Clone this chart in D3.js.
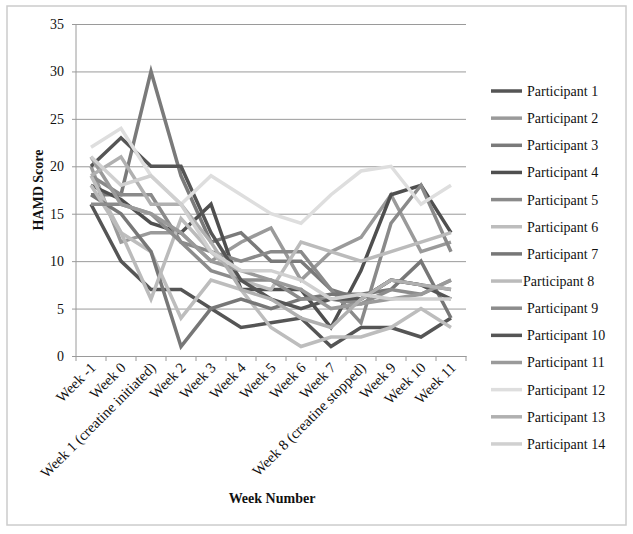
<!DOCTYPE html>
<html>
<head>
  <script src="https://d3js.org/d3.v7.min.js"></script>
<style>
body { margin: 0; background: #fff; }
text { font-family: "Liberation Serif", "Times New Roman", serif; fill: #111; }
.grid line { stroke: #9a9a9a; stroke-width: 1px; }
.axis path, .axis line { stroke: #9a9a9a; }
.series { fill: none; stroke-width: 3.5px; }
</style>
</head>
<body>
<div id="viz"></div>
<script>

// week labels on the x axis
var weeks = ["Week -1", "Week 0", "Week 1 (creatine initiated)", "Week 2", "Week 3", "Week 4",
  "Week 5", "Week 6", "Week 7", "Week 8 (creatine stopped)", "Week 9", "Week 10", "Week 11"];

var yTicks = [0, 5, 10, 15, 20, 25, 30, 35];

// HAMD scores, one array per participant
var p1  = [16, 10, 7, 7, 5, 3, 3.5, 4, 1, 3, 3, 2, 4];
var p2  = [20, 12, 13, 13, 10, 12, 13.5, 8, 11, 12.5, 17, 11, 12];
var p3  = [17, 17, 30, 19, 12, 13, 10, 10, 7, 6, 8, 7.5, 7];
var p4  = [18, 16.5, 14, 13, 16, 7, 7, 7, 3, 9, 17, 18, 13];
var p5  = [19, 17, 17, 12, 11, 10, 11, 11, 7, 3.5, 14, 18, 11];
var p6  = [19, 13, 11, 4, 8, 7, 3, 1, 2, 2, 3, 5, 3];
var p7  = [17, 15, 11, 1, 5, 6, 5, 6, 6.5, 6.5, 7, 10, 4];
var p8  = [18, 13, 6, 14.5, 11, 8, 7, 12, 11, 10, 11, 12, 13];
var p9  = [16, 16, 15, 12, 9, 8, 8, 6, 6, 5.5, 7, 6.5, 8];
var p10 = [20, 23, 20, 20, 13, 8, 6, 5, 6, 6, 8, 7.5, 6];
var p11 = [21, 16, 15, 13, 10, 9, 8, 7, 5, 5.5, 6, 6.5, 8];
var p12 = [22, 24, 19, 16, 19, 17, 15, 14, 17, 19.5, 20, 16, 18];
var p13 = [19, 21, 16, 16, 12, 7, 6, 4, 3, 6, 8, 7.5, 7];
var p14 = [21, 18, 19, 16, 11, 9, 9, 8, 6, 6.5, 6, 6, 6];

var names = ["Participant 1", "Participant 2", "Participant 3", "Participant 4", "Participant 5",
  "Participant 6", "Participant 7", "Participant 8", "Participant 9", "Participant 10",
  "Participant 11", "Participant 12", "Participant 13", "Participant 14"];
var allSeries = [p1, p2, p3, p4, p5, p6, p7, p8, p9, p10, p11, p12, p13, p14];
var greys = ["#555555", "#9a9a9a", "#7a7a7a", "#4f4f4f", "#8a8a8a", "#bdbdbd", "#777777",
  "#bbbbbb", "#8c8c8c", "#555555", "#9a9a9a", "#dedede", "#b0b0b0", "#d0d0d0"];

var W = 633, H = 534;
var plot = {left: 76, right: 466, top: 24, bottom: 356};

var svg = d3.select("#viz").append("svg")
    .attr("width", W)
    .attr("height", H);

// outer frame
svg.append("rect")
    .attr("x", 7).attr("y", 6)
    .attr("width", 619).attr("height", 519)
    .style("fill", "none")
    .style("stroke", "#cccccc")
    .style("stroke-width", 1.5);

var x = d3.scaleBand().domain(weeks).range([plot.left, plot.right]);
var y = d3.scaleLinear().domain([0, 35]).range([plot.bottom, plot.top]);

// horizontal grid lines + y labels
var yAxis = svg.append("g")
    .attr("class", "axis grid")
    .attr("transform", "translate(" + plot.left + ",0)")
    .call(d3.axisLeft(y).tickValues(yTicks).tickSize(-(plot.right - plot.left)).tickPadding(12).tickSizeOuter(0));
yAxis.select(".domain").remove();
yAxis.selectAll(".tick line").attr("x1", -4);
yAxis.selectAll(".tick text").style("font-size", "14px").style("fill", "#111");

svg.append("line")
    .attr("x1", plot.left).attr("x2", plot.left)
    .attr("y1", plot.top).attr("y2", plot.bottom)
    .style("stroke", "#9a9a9a");

// x axis (band axis puts each tick at the band centre)
var xAxis = svg.append("g")
    .attr("class", "axis")
    .attr("transform", "translate(0," + plot.bottom + ")")
    .call(d3.axisBottom(x).tickSize(0).tickSizeOuter(0));
xAxis.selectAll(".tick text")
    .style("font-size", "14.7px")
    .style("fill", "#111")
    .attr("text-anchor", "end")
    .attr("transform", "translate(2,9) rotate(-45)")
    .attr("x", 0).attr("y", 0).attr("dy", "0.35em");

// tick marks on the band edges
svg.append("g").selectAll("line")
    .data(weeks.concat(["end"]))
    .enter().append("line")
    .attr("x1", function(d, i) { return plot.left + i * x.step(); })
    .attr("x2", function(d, i) { return plot.left + i * x.step(); })
    .attr("y1", plot.bottom).attr("y2", plot.bottom + 5)
    .style("stroke", "#9a9a9a");

// the lines
var line = d3.line()
    .x(function(d, i) { return x(weeks[i]) + x.bandwidth() / 2; })
    .y(function(d) { return y(d); });

svg.append("g").selectAll("path")
    .data(allSeries)
    .enter().append("path")
    .attr("class", "series")
    .attr("d", line)
    .style("stroke", function(d, i) { return greys[i]; });

// axis titles
svg.append("text")
    .attr("transform", "translate(43,190) rotate(-90)")
    .attr("text-anchor", "middle")
    .style("font-size", "14px")
    .style("font-weight", "bold")
    .text("HAMD Score");

svg.append("text")
    .attr("x", 272).attr("y", 503)
    .attr("text-anchor", "middle")
    .style("font-size", "14px")
    .style("font-weight", "bold")
    .text("Week Number");

// legend
var legend = svg.append("g").selectAll("g")
    .data(names)
    .enter().append("g")
    .attr("transform", function(d, i) { return "translate(491," + (91 + i * 27.15) + ")"; });

legend.append("line")
    .attr("x1", 0).attr("x2", 31)
    .style("stroke-width", 3.5)
    .style("stroke", function(d, i) { return greys[i]; });

legend.append("text")
    .attr("x", function(d) { return d == "Participant 8" ? 32 : 36; })
    .attr("dy", "0.35em")
    .style("font-size", "14px")
    .text(function(d) { return d; });

</script>
</body>
</html>
